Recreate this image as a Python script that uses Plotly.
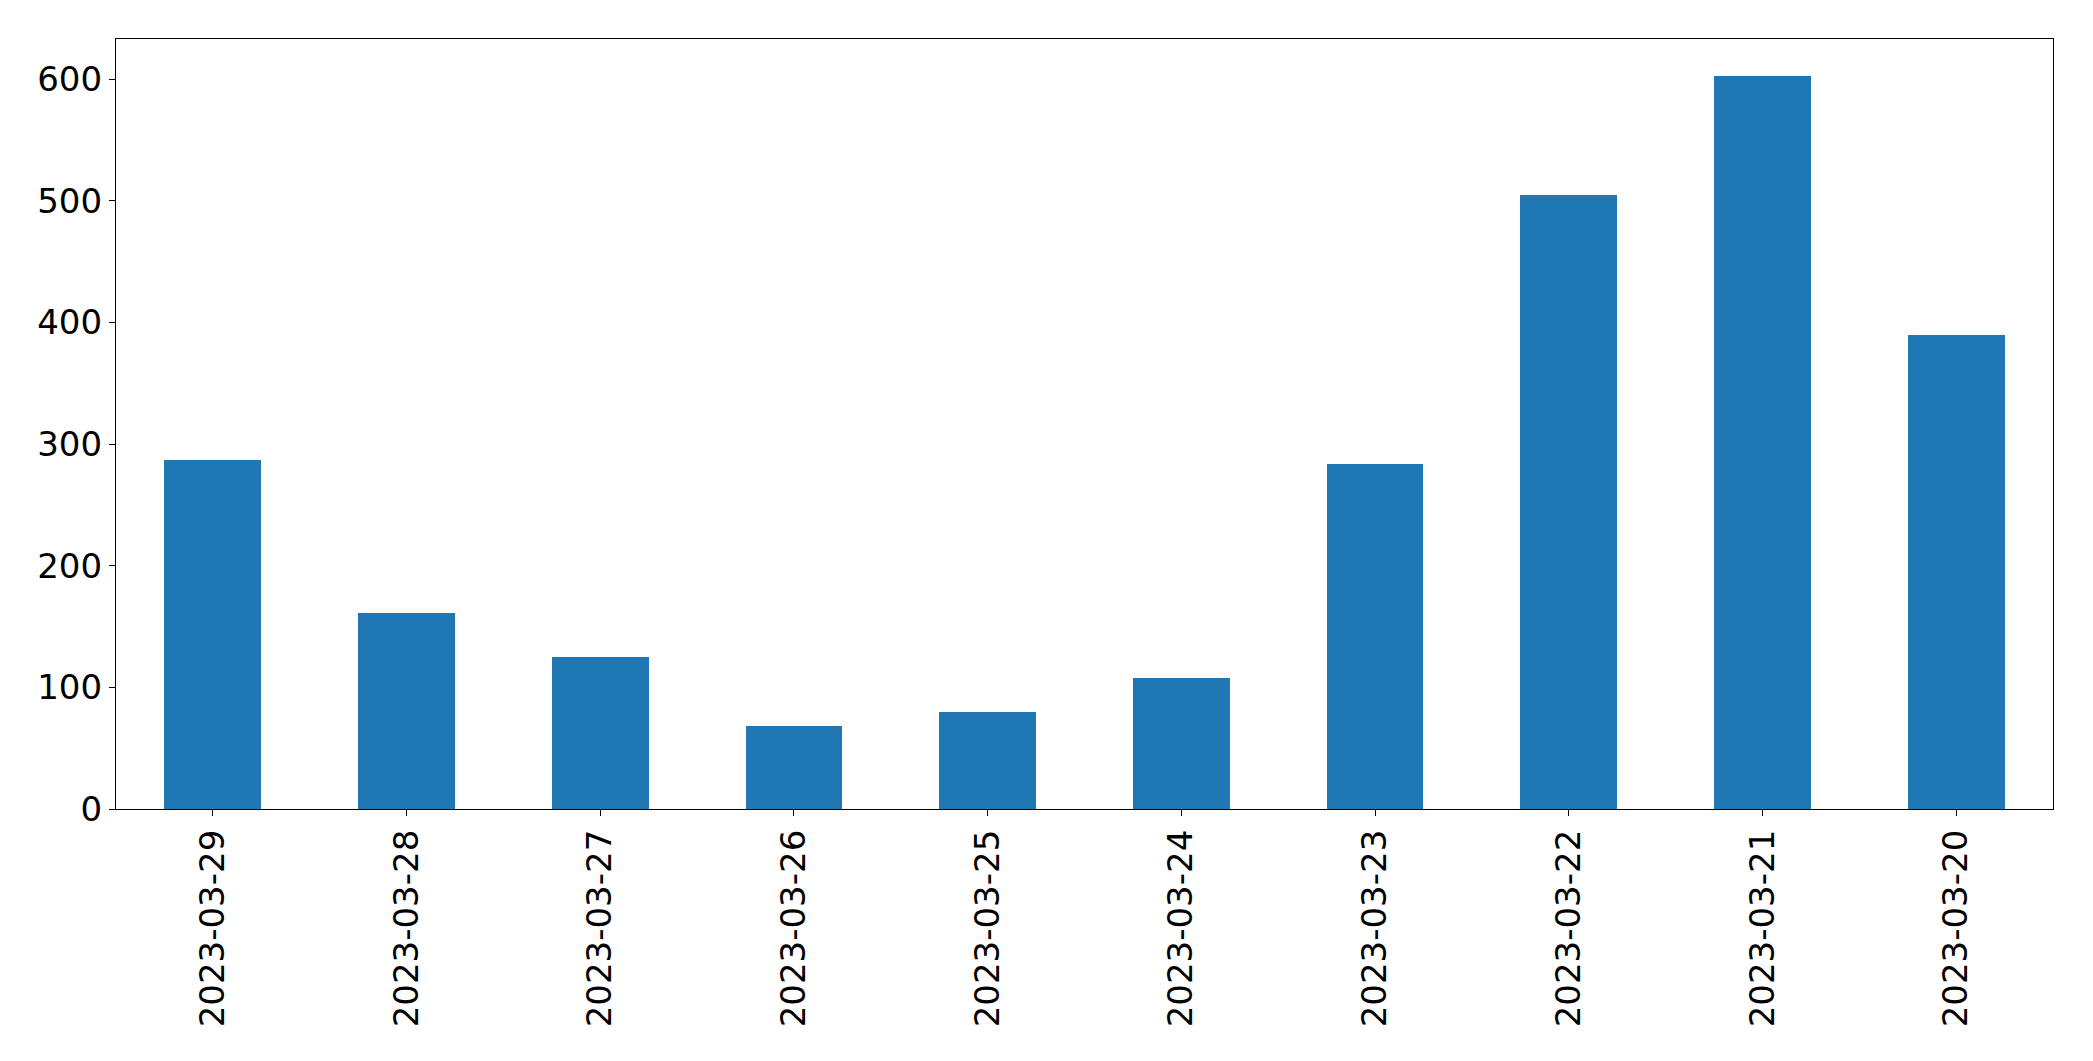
import plotly.graph_objects as go

dates = ["2023-03-29", "2023-03-28", "2023-03-27", "2023-03-26", "2023-03-25",
         "2023-03-24", "2023-03-23", "2023-03-22", "2023-03-21", "2023-03-20"]
counts = [287, 161, 125, 68, 80, 108, 284, 505, 603, 390]
y_ticks = [0, 100, 200, 300, 400, 500, 600]

fig = go.Figure(
    go.Bar(x=dates, y=counts, width=0.5, marker=dict(color="#1f77b4", line=dict(width=0)))
)

fig.update_layout(
    width=2093, height=1061,
    margin=dict(l=116, r=40, t=39, b=252, autoexpand=False),
    paper_bgcolor="white", plot_bgcolor="white",
    font=dict(family="DejaVu Sans", size=34, color="black"),
    showlegend=False,
    bargap=0,
)
fig.update_xaxes(
    type="category", range=[-0.5, len(dates) - 0.5],
    tickangle=-90, ticks="outside", ticklen=6, tickwidth=1.3, tickcolor="black",
    showline=True, linecolor="black", linewidth=1.3, mirror=True,
    showgrid=False, zeroline=False,
)
fig.update_yaxes(
    range=[0, max(counts) * 1.05], tickvals=y_ticks,
    ticks="outside", ticklen=6, tickwidth=1.3, tickcolor="black",
    showline=True, linecolor="black", linewidth=1.3, mirror=True,
    showgrid=False, zeroline=False,
)

fig.write_html("out.html")
